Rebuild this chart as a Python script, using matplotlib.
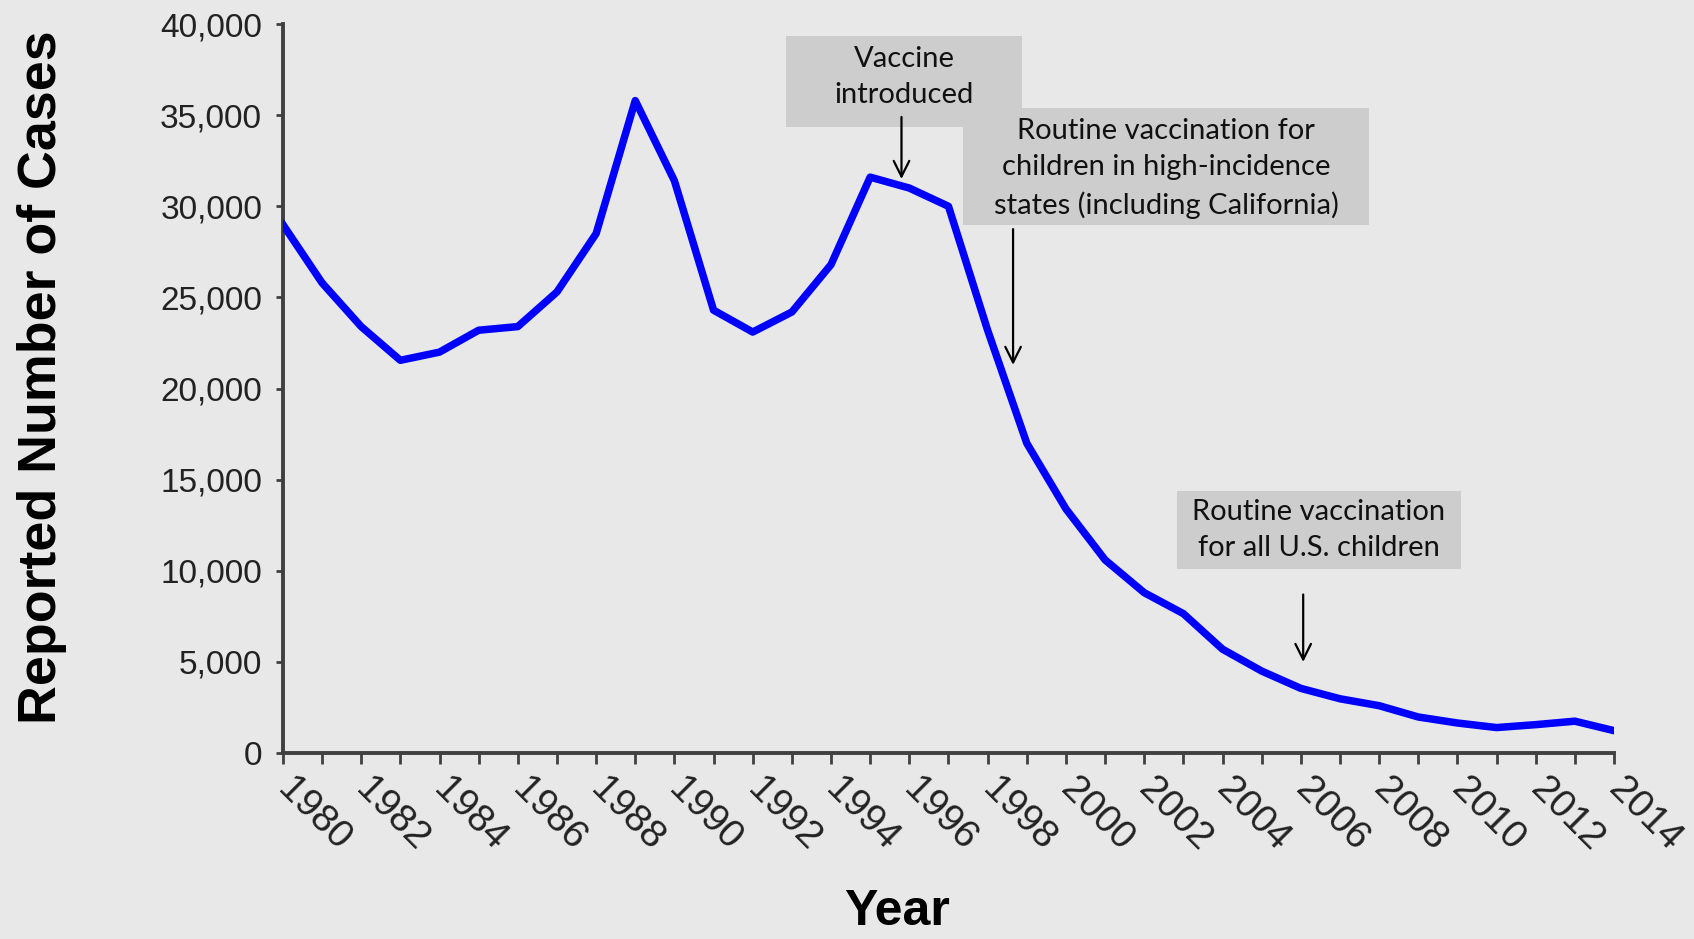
import matplotlib
matplotlib.use("Agg")
import matplotlib.pyplot as plt
from matplotlib.patches import Rectangle
from matplotlib.ticker import FuncFormatter

years = list(range(1980, 2015))
cases = [29000, 25800, 23400, 21550, 22000, 23200, 23400, 25300, 28500, 35800,
         31400, 24300, 23100, 24200, 26800, 31600, 31000, 30000, 23200, 17000,
         13400, 10600, 8800, 7650, 5700, 4500, 3550, 2980, 2600, 1980,
         1650, 1400, 1560, 1750, 1230]
ytick_vals = [0, 5000, 10000, 15000, 20000, 25000, 30000, 35000, 40000]
xtick_labels = [str(y) for y in range(1980, 2015, 2)]

notes = [
    ("Vaccine\nintroduced", 1995.8, 34900, 31500),
    ("Routine vaccination for\nchildren in high-incidence\nstates (including California)", 1998.65, 28750, 21300),
    ("Routine vaccination\nfor all U.S. children", 2006.06, 8700, 5000),
]
boxes = [  # x0, x1, y0, y1 (data coords)
    (1992.85, 1998.88, 34350, 39340),
    (1997.37, 2007.74, 28970, 35390),
    (2002.84, 2010.09, 10100, 14380),
]
text_shift = [250, -100, 0]  # vertical nudge of text within each box (data units)

BG = "#e8e8e8"
BOXC = "#cdcdcd"
fig = plt.figure(figsize=(16.94, 9.39), dpi=100, facecolor=BG)
ax = fig.add_axes([0.167, 0.198, 0.7858, 0.7764])
ax.set_facecolor(BG)

ax.plot(years, cases, color="#0000ff", lw=5.4, solid_joinstyle="round", zorder=3)

ax.set_xlim(1980, 2014)
ax.set_ylim(0, 40000)
ax.set_yticks(ytick_vals)
ax.yaxis.set_major_formatter(FuncFormatter(lambda v, p: f"{int(v):,}"))
ax.set_xticks(years)
ax.set_xticklabels([y if y in xtick_labels else "" for y in map(str, years)])

for s in ["top", "right"]:
    ax.spines[s].set_visible(False)
for s in ["left", "bottom"]:
    ax.spines[s].set_color("#404040")
    ax.spines[s].set_linewidth(2.8)

ax.tick_params(axis="y", direction="out", length=5, width=2, color="#404040",
               labelsize=24, pad=10, labelcolor="#222222")
ax.tick_params(axis="x", direction="out", length=8, width=2, color="#404040",
               labelsize=28, pad=14, labelcolor="#222222")
for lab in ax.get_yticklabels() + ax.get_xticklabels():
    lab.set_fontfamily(["Liberation Sans", "DejaVu Sans"])
for lab in ax.get_xticklabels():
    lab.set_rotation(-45)
    lab.set_ha("left")
    lab.set_va("center")
    lab.set_rotation_mode("anchor")

fig.text(0.025, 0.5985, "Reported Number of Cases", rotation=90, ha="center", va="center",
         fontsize=38.7, fontweight="bold", family=["Liberation Sans", "DejaVu Sans"])
fig.text(0.5295, 0.004, "Year", ha="center", va="bottom",
         fontsize=36, fontweight="bold", family=["Liberation Sans", "DejaVu Sans"])

for (x0, x1, y0, y1) in boxes:
    ax.add_patch(Rectangle((x0, y0), x1 - x0, y1 - y0, facecolor=BOXC, edgecolor="none",
                           clip_on=False, zorder=4))
for (txt, xa, ys, ye), (x0, x1, y0, y1), dy in zip(notes, boxes, text_shift):
    ax.text((x0 + x1) / 2, (y0 + y1) / 2 + dy, txt, ha="center", va="center", fontsize=21,
            family=["Lato", "DejaVu Sans"], linespacing=1.5, zorder=5, color="#111111")
    ax.annotate("", xy=(xa, ye), xytext=(xa, ys),
                arrowprops=dict(arrowstyle="->", lw=1.6, color="black", mutation_scale=28,
                                shrinkA=0, shrinkB=0), zorder=6, annotation_clip=False)

fig.savefig("out.png", dpi=100, facecolor=BG)
